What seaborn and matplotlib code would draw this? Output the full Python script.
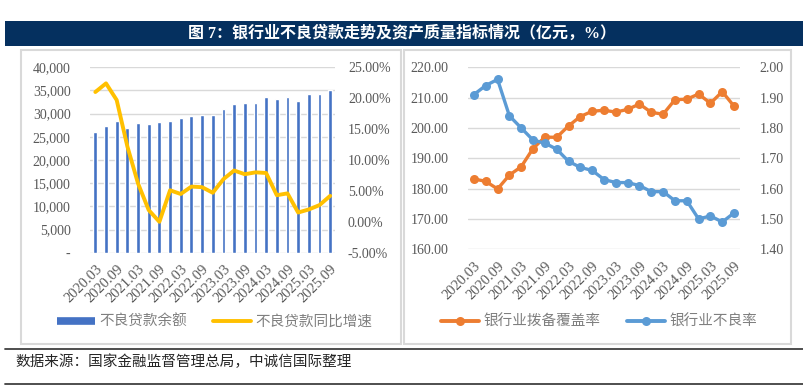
import numpy as np
import pandas as pd
import matplotlib
matplotlib.use("Agg")
import matplotlib.pyplot as plt
import seaborn as sns
from matplotlib.patches import Rectangle
from matplotlib.lines import Line2D
from matplotlib.ticker import FuncFormatter, FixedLocator

# ---------------- data ----------------
quarters = ["2020.03", "2020.06", "2020.09", "2020.12",
            "2021.03", "2021.06", "2021.09", "2021.12",
            "2022.03", "2022.06", "2022.09", "2022.12",
            "2023.03", "2023.06", "2023.09", "2023.12",
            "2024.03", "2024.06", "2024.09", "2024.12",
            "2025.03", "2025.06", "2025.09"]
npl_balance = [26100, 27400, 28400, 27000, 27900, 27800, 28200, 28500,
               29100, 29500, 29800, 29800, 31000, 32000, 32200, 32300,
               33700, 33200, 33600, 32800, 34300, 34300, 35000]
npl_yoy = [21.0, 22.4, 19.7, 12.2, 6.2, 1.9, 0.0, 5.1, 4.5, 5.7, 5.6, 4.7,
           6.9, 8.3, 7.7, 8.0, 7.9, 4.3, 4.6, 1.5, 2.0, 2.7, 4.2]
coverage = [183.20, 182.40, 179.89, 184.47, 187.22, 193.23, 196.99, 196.91,
            200.67, 203.78, 205.50, 205.85, 205.23, 206.13, 207.89, 205.14,
            204.54, 209.32, 209.48, 211.19, 208.14, 211.97, 207.15]
npl_ratio = [1.91, 1.94, 1.96, 1.84, 1.80, 1.76, 1.75, 1.73, 1.69, 1.67, 1.66,
             1.63, 1.62, 1.62, 1.61, 1.59, 1.59, 1.56, 1.56, 1.50, 1.51, 1.49, 1.52]

title = "图 7：银行业不良贷款走势及资产质量指标情况（亿元，%）"
source = "数据来源：国家金融监督管理总局，中诚信国际整理"
left_labels = ["不良贷款余额", "不良贷款同比增速"]
right_labels = ["银行业拨备覆盖率", "银行业不良率"]

df = pd.DataFrame({"quarter": quarters, "pos": np.arange(len(quarters)),
                   "balance": npl_balance, "yoy": npl_yoy,
                   "coverage": coverage, "ratio": npl_ratio})

# ---------------- style ----------------
sns.set_style("white")
plt.rcParams["font.family"] = ["Liberation Serif", "Noto Sans CJK SC", "DejaVu Sans"]

W, H = 804, 391
fig = plt.figure(figsize=(W / 100, H / 100), dpi=100)


def rect(x0, y0, x1, y1):
    return [x0 / W, 1 - y1 / H, (x1 - x0) / W, (y1 - y0) / H]


BLUE_BAR = "#4472C4"
YELLOW = "#FFC000"
ORANGE = "#ED7D31"
LBLUE = "#5B9BD5"
GRID = "#d9d9d9"
TICK = "#595959"
n = len(quarters)
tick_pos = list(range(0, n, 2))
tick_lab = quarters[::2]


def clean(ax):
    for s in ax.spines.values():
        s.set_visible(False)
    ax.set_xlabel("")
    ax.set_ylabel("")
    ax.tick_params(length=0, colors=TICK, labelsize=10)


# ---------------- left panel ----------------
ax1 = fig.add_axes(rect(90, 67.3, 335.5, 252.7))
sns.barplot(data=df, x="quarter", y="balance", color=BLUE_BAR, saturation=1,
            width=0.36, ax=ax1)
ax1.set_ylim(0, 40000)
ax1.set_yticks(range(0, 40001, 5000))
ax1.yaxis.set_major_formatter(FuncFormatter(lambda v, p: "-" if v == 0 else f"{v:,.0f}"))
ax1.grid(axis="y", color=GRID, lw=1)
ax1.grid(axis="x", visible=False)
ax1.set_axisbelow(True)
clean(ax1)
ax1.tick_params(axis="y", pad=14)

ax1b = ax1.twinx()
sns.lineplot(data=df, x="pos", y="yoy", color=YELLOW, lw=2.8, ax=ax1b)
ax1b.set_ylim(-5, 25)
ax1b.set_yticks(range(-5, 26, 5))
ax1b.yaxis.set_major_formatter(FuncFormatter(lambda v, p: f"{v:.2f}%"))
clean(ax1b)
ax1b.tick_params(axis="y", pad=9)
ax1.set_xlim(-0.5, n - 0.5)
ax1.xaxis.set_major_locator(FixedLocator(tick_pos))
ax1.set_xticklabels(tick_lab, rotation=45, ha="right", rotation_mode="anchor",
                    fontsize=10.5)
ax1.tick_params(axis="x", pad=7)

# ---------------- right panel ----------------
ax2 = fig.add_axes(rect(468, 67.3, 740, 249.3))
sns.lineplot(data=df, x="pos", y="coverage", color=ORANGE, lw=2.4, marker="o",
             markersize=6.5, markeredgewidth=0, ax=ax2)
ax2.set_ylim(160, 220)
ax2.set_yticks(range(160, 221, 10))
ax2.yaxis.set_major_formatter(FuncFormatter(lambda v, p: f"{v:.2f}"))
ax2.grid(axis="y", color=GRID, lw=1)
ax2.grid(axis="x", visible=False)
ax2.set_axisbelow(True)
clean(ax2)
ax2.tick_params(axis="y", pad=14)

ax2b = ax2.twinx()
sns.lineplot(data=df, x="pos", y="ratio", color=LBLUE, lw=2.4, marker="o",
             markersize=6.5, markeredgewidth=0, ax=ax2b)
ax2b.set_ylim(1.4, 2.0)
ax2b.set_yticks(np.round(np.arange(1.4, 2.001, 0.1), 2))
ax2b.yaxis.set_major_formatter(FuncFormatter(lambda v, p: f"{v:.2f}"))
clean(ax2b)
ax2b.tick_params(axis="y", pad=14)
ax2.set_xlim(-0.5, n - 0.5)
ax2.xaxis.set_major_locator(FixedLocator(tick_pos))
ax2.set_xticklabels(tick_lab, rotation=45, ha="right", rotation_mode="anchor",
                    fontsize=10.5)
ax2.tick_params(axis="x", pad=7)

# ---------------- legends ----------------
leg_kw = dict(loc="center", ncol=2, frameon=False, fontsize=10.5,
              labelcolor="#7f7f7f", handlelength=2.6, columnspacing=1.8,
              handletextpad=0.3)
h_left = [Line2D([], [], color=BLUE_BAR, lw=5.5, solid_capstyle="butt"),
          Line2D([], [], color=YELLOW, lw=2.8)]
fig.legend(h_left, left_labels, bbox_to_anchor=(215 / W, 1 - 322 / H), **leg_kw)
h_right = [Line2D([], [], color=ORANGE, lw=2.8, marker="o", markersize=6.5, markeredgewidth=0),
           Line2D([], [], color=LBLUE, lw=2.8, marker="o", markersize=6.5, markeredgewidth=0)]
fig.legend(h_right, right_labels, bbox_to_anchor=(599 / W, 1 - 322 / H), **leg_kw)

# ---------------- frames, title, source ----------------
fig.add_artist(Rectangle((5 / W, 1 - 46 / H), (804 - 5) / W, 25 / H,
                         transform=fig.transFigure, fc="#05305F", ec="none"))
fig.text(402 / W, 1 - 33.5 / H, title, color="white", fontsize=11.5,
         fontweight="bold", ha="center", va="center")
for x0, x1 in [(21, 401.5), (404, 791)]:
    fig.add_artist(Rectangle((x0 / W, 1 - 344 / H), (x1 - x0) / W, (344 - 50) / H,
                             transform=fig.transFigure, fill=False,
                             ec="#d9d9d9", lw=1.5))
for y in (349, 384):
    fig.add_artist(Line2D([5 / W, 1], [1 - y / H] * 2, transform=fig.transFigure,
                          color="#404040", lw=1.3))
fig.text(15 / W, 1 - 362 / H, source, fontsize=10.5, color="#262626",
         ha="left", va="center")

fig.savefig("out.png", dpi=100)
